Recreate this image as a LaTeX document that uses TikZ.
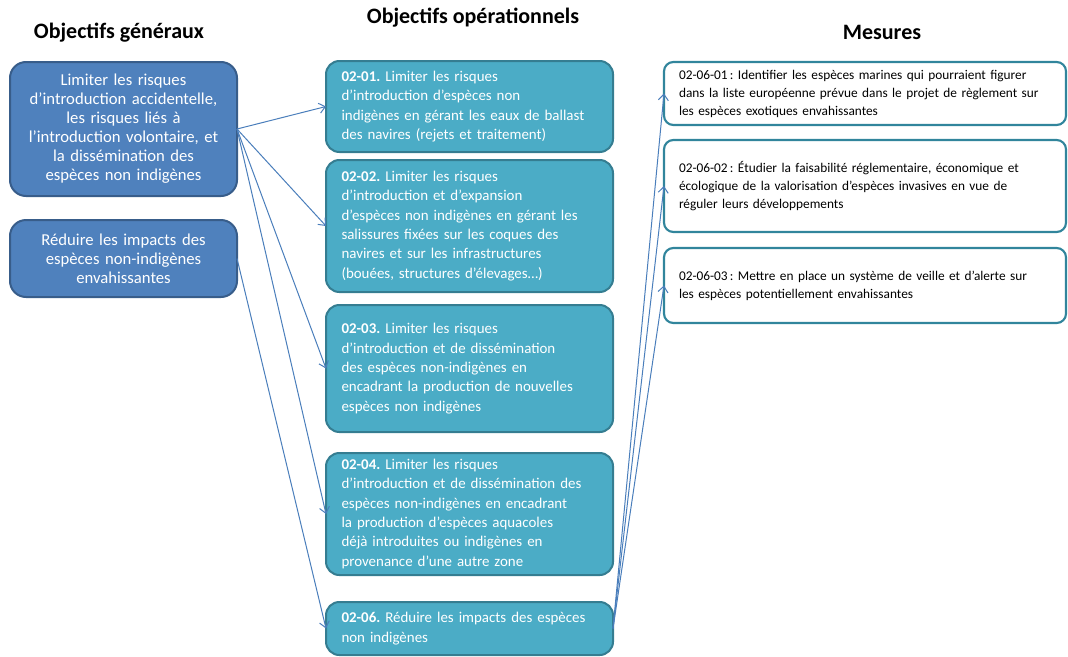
\documentclass[tikz,border=0pt]{standalone}
\usepackage{fontspec}
\setmainfont{Carlito}
\usetikzlibrary{arrows.meta,positioning}
\definecolor{genfill}{HTML}{4F81BD}
\definecolor{genbord}{HTML}{385D8A}
\definecolor{opefill}{HTML}{4BACC6}
\definecolor{opebord}{HTML}{357D91}
\definecolor{mesbord}{HTML}{31859C}
\definecolor{flcol}{HTML}{4A7EBB}
\frenchspacing

\begin{document}
\begin{tikzpicture}[
      x=0.75pt, y=-0.75pt,
      titre/.style={font=\fontsize{16.5}{18}\selectfont\bfseries, inner sep=0pt},
      gen/.style={draw=genbord, fill=genfill, line width=1.5pt, rounded corners=12pt,
                  text=white, align=center, text width=154pt, inner xsep=8pt, outer sep=0pt,
                  minimum width=170.25pt, font=\fontsize{12.5}{14.25}\selectfont},
      ope/.style={draw=opebord, fill=opefill, line width=1.5pt, rounded corners=10pt,
                  text=white, align=left, text width=192pt, inner xsep=11.6pt, outer sep=0pt,
                  minimum width=215.25pt, font=\fontsize{11.2}{14.5}\selectfont},
      mes/.style={draw=mesbord, fill=white, line width=1.6pt, rounded corners=7pt,
                  align=left, text width=279pt, inner xsep=11pt, outer sep=0pt,
                  minimum width=301.5pt, font=\fontsize{10}{13.5}\selectfont},
      fl/.style={-{Straight Barb[length=4.5pt,width=7.5pt]}, draw=flcol, line width=0.75pt}
    ]
    \useasboundingbox (0,0) rectangle (1068,657);

    % titres des colonnes
    \node[titre] (hgen) at (119,33) {Objectifs généraux};
    \node[titre] (hope) at (473,18) {Objectifs opérationnels};
    \node[titre] (hmes) at (882,32) {Mesures};

    % objectifs generaux
    \node[gen, anchor=north west, minimum height=100.5pt] (g1) at (10,62)
      {Limiter les risques\\ d’introduction accidentelle,\\ les risques liés à\\ l’introduction volontaire, et\\ la dissémination des\\ espèces non indigènes};
    \node[gen, below=18pt of g1, minimum height=57.75pt] (g2)
      {Réduire les impacts des\\ espèces non-indigènes\\ envahissantes};

    % objectifs operationnels
    \node[ope, anchor=north west, minimum height=68.25pt] (o1) at (326,61)
      {\textbf{02-01.} Limiter les risques\\ d’introduction d’espèces non\\ indigènes en gérant les eaux de ballast\\ des navires (rejets et traitement)};
    \node[ope, below=6pt of o1, minimum height=99pt] (o2)
      {\textbf{02-02.} Limiter les risques\\ d’introduction et d’expansion\\ d’espèces non indigènes en gérant les\\ salissures fixées sur les coques des\\ navires et sur les infrastructures\\ (bouées, structures d’élevages…)};
    \node[ope, below=9.75pt of o2, minimum height=95.25pt] (o3)
      {\textbf{02-03.} Limiter les risques\\ d’introduction et de dissémination\\ des espèces non-indigènes en\\ encadrant la production de nouvelles\\ espèces non indigènes};
    \node[ope, below=15.75pt of o3, minimum height=91.5pt] (o4)
      {\textbf{02-04.} Limiter les risques\\ d’introduction et de dissémination des\\ espèces non-indigènes en encadrant\\ la production d’espèces aquacoles\\ déjà introduites ou indigènes en\\ provenance d’une autre zone};
    \node[ope, below=20.25pt of o4, minimum height=39.75pt] (o6)
      {\textbf{02-06.} Réduire les impacts des espèces\\ non indigènes};

    % mesures
    \node[mes, anchor=north west, minimum height=47.25pt] (m1) at (664,62)
      {02-06-01\,: Identifier les espèces marines qui pourraient figurer\\ dans la liste européenne prévue dans le projet de règlement sur\\ les espèces exotiques envahissantes};
    \node[mes, below=11.25pt of m1, minimum height=69pt] (m2)
      {02-06-02\,: Étudier la faisabilité réglementaire, économique et\\ écologique de la valorisation d'espèces invasives en vue de\\ réguler leurs développements};
    \node[mes, below=12pt of m2, minimum height=56.25pt] (m3)
      {02-06-03\,: Mettre en place un système de veille et d’alerte sur\\ les espèces potentiellement envahissantes};

    % fleches
    \foreach \o in {o1,o2,o3,o4}
      \draw[fl] (g1.east) -- (\o.west);
    \draw[fl] (g2.east) -- (o6.west);
    \foreach \m in {m1,m2,m3}
      \draw[fl] (o6.east) -- (\m.west);
  \end{tikzpicture}
\end{document}
